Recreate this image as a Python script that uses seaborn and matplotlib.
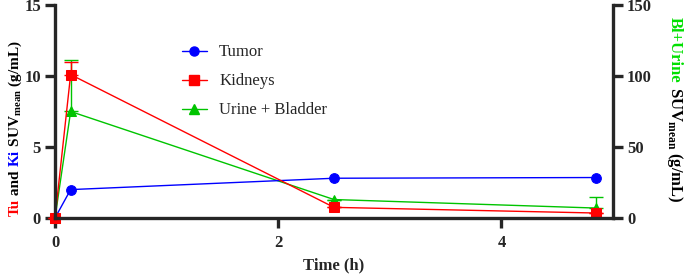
import numpy as np
import pandas as pd
import seaborn as sns
import matplotlib.pyplot as plt
from matplotlib.lines import Line2D

# ---- data ----
time_h      = [0.0, 0.14, 2.5, 4.85]
tumor       = [0.0, 2.0, 2.8, 2.85]
kidneys     = [0.0, 10.1, 0.75, 0.35]
kidneys_err = [0.0, 0.9, 0.0, 0.0]
urine       = [0.0, 75.0, 13.0, 7.0]      # right axis
urine_err   = [0.0, 36.0, 0.0, 8.0]

C_BLUE, C_RED, C_GREEN = "#0000FF", "#FF0000", "#00C400"

sns.set_style("ticks")
plt.rcParams["font.family"] = ["Liberation Serif", "DejaVu Serif"]
plt.rcParams["mathtext.fontset"] = "custom"
plt.rcParams["mathtext.rm"] = "Liberation Serif"
plt.rcParams["mathtext.bf"] = "Liberation Serif:bold"

df_left = pd.DataFrame({"time": time_h * 2,
                        "suv": tumor + kidneys,
                        "organ": ["Tumor"] * 4 + ["Kidneys"] * 4})
df_right = pd.DataFrame({"time": time_h, "suv": urine, "organ": "Urine + Bladder"})

fig = plt.figure(figsize=(6.85, 2.77), dpi=100)
ax = fig.add_axes([55 / 685, 1 - 218 / 277, (613 - 55) / 685, (218 - 5) / 277])
ax2 = ax.twinx()

# error bars (upper only)
ax.errorbar(time_h, kidneys, yerr=[np.zeros(4), kidneys_err], fmt="none",
            ecolor=C_RED, elinewidth=1, capsize=5, capthick=1, clip_on=False)
ax2.errorbar(time_h, urine, yerr=[np.zeros(4), urine_err], fmt="none",
             ecolor=C_GREEN, elinewidth=1, capsize=5, capthick=1, clip_on=False)

styles = {"Tumor": ("o", C_BLUE, 7), "Kidneys": ("s", C_RED, 7),
          "Urine + Bladder": ("^", C_GREEN, 7)}
for organ in ["Tumor", "Kidneys"]:
    m, c, s = styles[organ]
    sns.lineplot(data=df_left[df_left["organ"] == organ], x="time", y="suv",
                 color=c, marker=m, markersize=s, markeredgecolor=c,
                 linewidth=1, ax=ax, legend=False, clip_on=False)
m, c, s = styles["Urine + Bladder"]
sns.lineplot(data=df_right, x="time", y="suv", color=c, marker=m, markersize=s,
             markeredgecolor=c, linewidth=1, ax=ax2, legend=False, clip_on=False)

# axes styling
ax.set_xlim(0, 5.0)
ax.set_ylim(0, 15)
ax2.set_ylim(0, 150)
ax.set_xticks([0, 2, 4])
ax.set_yticks([0, 5, 10, 15])
ax2.set_yticks([0, 50, 100, 150])
ax.set_ylabel("")
ax2.set_ylabel("")
ax.set_xlabel("Time (h)", fontsize=12, fontweight="bold", labelpad=4)

for a in (ax, ax2):
    for sp in a.spines.values():
        sp.set_linewidth(2.4)
    a.spines["top"].set_visible(False)
    a.tick_params(width=2.4, length=7.5, labelsize=12, pad=2.5)
    for lab in a.get_xticklabels() + a.get_yticklabels():
        lab.set_fontweight("bold")
ax.tick_params(axis="x", pad=5)
ax.spines["right"].set_visible(False)
ax2.spines["left"].set_visible(False)
ax2.spines["bottom"].set_visible(False)
ax.set_zorder(ax2.get_zorder() + 1)
ax.patch.set_visible(False)

# legend
handles = [Line2D([], [], color=styles[k][1], marker=styles[k][0], markersize=6.5,
                  markeredgecolor=styles[k][1], linewidth=1)
           for k in ["Tumor", "Kidneys", "Urine + Bladder"]]
ax.legend(handles, ["Tumor", "Kidneys", "Urine + Bladder"], frameon=False,
          loc="upper left", bbox_to_anchor=(0.2, 0.885), fontsize=12,
          labelspacing=0.78, handlelength=1.5, handletextpad=0.75)

# multi-coloured axis labels
fig.canvas.draw()
renderer = fig.canvas.get_renderer()


def stacked_label(pieces, x_px, y_px, rotation, size):
    y = y_px
    for txt, col in pieces:
        t = fig.text(x_px / 685, 1 - y / 277, txt, color=col, fontsize=size,
                     fontweight="bold", rotation=rotation, rotation_mode="anchor",
                     ha="left", va="baseline")
        bb = t.get_window_extent(renderer)
        if rotation == 90:
            y -= bb.height
        else:
            y += bb.height


stacked_label([("Tu", C_RED), (" and ", "black"), ("Ki", C_BLUE),
               (r" SUV$_{\mathbf{mean}}$ (g/mL)", "black")], 19, 216, 90, 11)
stacked_label([("Bl+Urine", "#00E000"), (r" SUV$_{\mathbf{mean}}$ (g/mL)", "black")],
              671, 17, 270, 12)

fig.savefig("out.png", dpi=100)
